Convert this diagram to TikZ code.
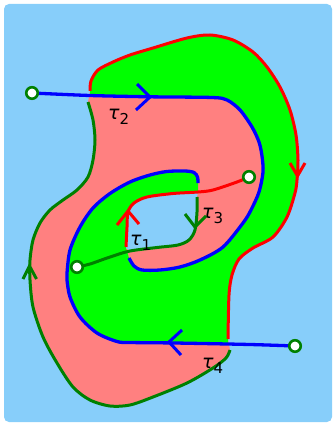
\documentclass[tikz,border=0pt]{standalone}
\usepackage{fontspec}
\newfontfamily\labfont{DejaVu Sans}
\definecolor{skyfill}{HTML}{87CEFA}
\definecolor{pinkfill}{HTML}{FF8080}
\definecolor{limefill}{HTML}{00FF00}
\definecolor{darkgreen}{HTML}{008000}
\newcommand{\taulab}[1]{{\itshape τ}\raisebox{-5pt}{\fontsize{15}{15}\selectfont #1}}
\pgfdeclarelayer{front}
\pgfsetlayers{main,front}

\begin{document}
\begin{tikzpicture}[
  x=1pt,y=-1pt,
  edge/.style={line width=3pt,line cap=butt},
  redline/.style={edge,red},
  blueline/.style={edge,blue,line width=3.3pt},
  greenline/.style={edge,darkgreen},
  chevron/.style={line width=3pt,line join=miter},
  endpoint/.style={circle,draw=darkgreen,fill=white,line width=2.6pt,minimum size=11.5pt,inner sep=0pt},
  lab/.style={font=\labfont\fontsize{19}{20}\selectfont,inner sep=0pt,anchor=base west},
]
  \useasboundingbox (0,0) rectangle (334,425);
  \fill[skyfill,rounded corners=5pt] (4,4) rectangle (332,422);

  \begin{pgfonlayer}{front}
    \node[endpoint] (e1) at (32,93) {};
    \node[endpoint] (e2) at (249,177) {};
    \node[endpoint] (e3) at (77,267) {};
    \node[endpoint] (e4) at (295,346) {};
  \end{pgfonlayer}

  % surface
  \fill[pinkfill] plot[smooth] coordinates {(90,91) (91,81) (98,70) (113,62) (130,55) (153,48) (187,38) (210,35) (233,40) (253,52) (267,67) (280,87) (290,110) (296,135) (298,160) (297,180) (295,193) (287,217) (273,237) (253,248) (239,259) (232,275) (229,295) (228,339)}
    -- plot[smooth] coordinates {(230,350) (226,358) (213,368) (187,383) (153,397) (130,405) (110,406) (90,400) (73,387) (57,363) (43,337) (33,307) (30,280) (30,260) (33,240) (40,223) (50,210) (63,200) (77,190) (88,177) (93,160) (95,140) (93,120) (88,102)}
    -- cycle;
  \fill[limefill] plot[smooth] coordinates {(90,95.5) (150,96.8) (212,97.5) (227,100) (240,110) (252,127) (259,142) (262,156) (263,172) (259,192) (251,210) (243,223) (223,247) (200,260) (180,267) (160,270) (142,270) (134,266) (129,258)}
    -- plot[smooth] coordinates {(126,248) (127,227) (128,212) (134,203) (147,197) (173,193.5) (198,192)}
    -- plot[smooth] coordinates {(198,183) (197.5,177) (194,172.5) (185,171) (167,171.5) (150,175) (130,182) (110,193.5) (93,208) (80,227) (70,250) (67,273) (67,280) (70,297) (80,317) (97,333) (117,341.5) (130,342.5) (175,343) (228,344)}
    -- plot[smooth] coordinates {(228,339) (229,295) (232,275) (239,259) (253,248) (273,237) (287,217) (295,193) (297,180) (298,160) (296,135) (290,110) (280,87) (267,67) (253,52) (233,40) (210,35) (187,38) (153,48) (130,55) (113,62) (98,70) (91,81) (90,91)}
    -- cycle;
  \fill[skyfill] plot[smooth] coordinates {(126,248) (127,227) (128,212) (134,203) (147,197) (173,193.5) (198,192)}
    -- plot[smooth] coordinates {(197,197) (197,212) (195,230) (189,240) (178,245) (157,247.5) (130,251)}
    -- cycle;

  % boundary
  \draw[redline] plot[smooth] coordinates {(90,91) (91,81) (98,70) (113,62) (130,55) (153,48) (187,38) (210,35) (233,40) (253,52) (267,67) (280,87) (290,110) (296,135) (298,160) (297,180) (295,193) (287,217) (273,237) (253,248) (239,259) (232,275) (229,295) (228,339)};
  \draw[greenline] plot[smooth] coordinates {(230,350) (226,358) (213,368) (187,383) (153,397) (130,405) (110,406) (90,400) (73,387) (57,363) (43,337) (33,307) (30,280) (30,260) (33,240) (40,223) (50,210) (63,200) (77,190) (88,177) (93,160) (95,140) (93,120) (88,102)};
  \draw[blueline] plot[smooth] coordinates {(e1) (90,95.5) (150,96.8) (212,97.5) (227,100) (240,110) (252,127) (259,142) (262,156) (263,172) (259,192) (251,210) (243,223) (223,247) (200,260) (180,267) (160,270) (142,270) (134,266) (129,258)};
  \draw[blueline] plot[smooth] coordinates {(e4) (250,344.5) (175,343) (130,342.5) (117,341.5) (97,333) (80,317) (70,297) (67,280) (67,273) (70,250) (80,227) (93,208) (110,193.5) (130,182) (150,175) (167,171.5) (185,171) (194,172.5) (197.5,177) (198,183)};
  \draw[redline] plot[smooth] coordinates {(e2) (237,182) (213,190) (198,192) (173,193.5) (147,197) (134,203) (128,212) (127,227) (126,247)};
  \draw[greenline] plot[smooth] coordinates {(e3) (90,264) (110,257) (130,251) (157,247.5) (178,245) (189,240) (195,230) (197,212) (197,197)};

  % orientation
  \draw[chevron,blue] (137,84) -- (150,97) -- (136,110);
  \draw[chevron,blue] (182,330) -- (169,342) -- (181,355);
  \draw[chevron,red] (290,163) -- (297.5,176) -- (305,163);
  \draw[chevron,red] (117,225) -- (128,211) -- (139,224);
  \draw[chevron,darkgreen] (23,279) -- (29.5,266) -- (36.5,279);
  \draw[chevron,darkgreen] (185,214) -- (195,227) -- (206,216);

  \node[lab] (t1) at (130,245) {\taulab{1}};
  \node[lab] (t2) at (108,120) {\taulab{2}};
  \node[lab] (t3) at (202,218) {\taulab{3}};
  \node[lab] (t4) at (202,368) {\taulab{4}};
\end{tikzpicture}
\end{document}
